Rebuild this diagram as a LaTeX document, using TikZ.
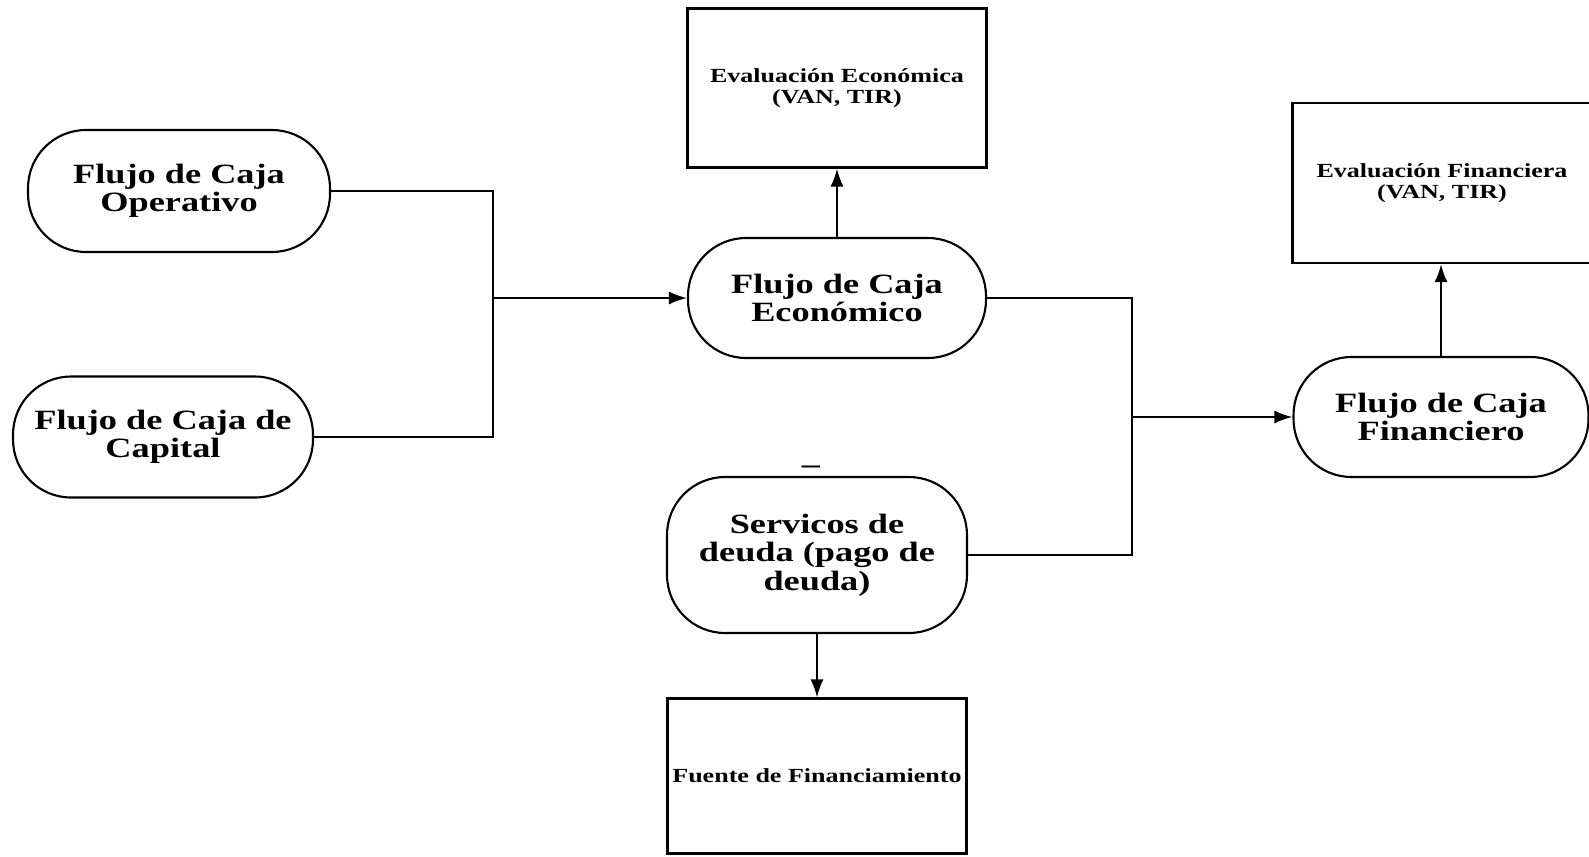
\documentclass[tikz,border=0pt]{standalone}
\usepackage{fontspec}
\setmainfont{Liberation Serif}[FakeStretch=1.3]
\usepackage{tikz}
\usetikzlibrary{arrows.meta}

\begin{document}
\begin{tikzpicture}[x=0.02cm, y=-0.02cm, line width=1.2pt,
        flujo/.style={draw, rectangle, rounded corners=1.16cm, align=center, inner sep=0pt,
            font=\fontsize{15.9pt}{16.2pt}\selectfont\bfseries},
        evalbox/.style={draw, rectangle, align=center, inner sep=0pt,
            minimum width=5.98cm, font=\fontsize{11.4pt}{12pt}\selectfont\bfseries},
        flecha/.style={-{Latex[length=0.36cm, width=0.26cm]}}]
        \useasboundingbox (0, 0) rectangle (1589, 856);

        \node[flujo, minimum width=6.04cm, minimum height=2.44cm] (oper) at (179, 191) {Flujo de Caja\\Operativo};
        \node[flujo, minimum width=6cm, minimum height=2.42cm] (capi) at (163, 437) {Flujo de Caja de\\Capital};
        \node[flujo, minimum width=5.96cm, minimum height=2.4cm] (econ) at (837, 298) {Flujo de Caja\\Económico};
        \node[flujo, minimum width=5.9cm, minimum height=2.4cm] (fina) at (1441, 417) {Flujo de Caja\\Financiero};
        \node[flujo, minimum width=6cm, minimum height=3.12cm] (serv) at (817, 555) {Servicos de\\deuda (pago de\\deuda)};

        \node[evalbox, minimum height=3.18cm] (evaleco) at (837, 88) {Evaluación Económica\\(VAN, TIR)};
        \node[evalbox, minimum height=3.2cm] (evalfin) at (1442, 183) {Evaluación Financiera\\(VAN, TIR)};
        \node[evalbox, minimum height=3.1cm] (fuente) at (817, 776) {Fuente de Financiamiento};

        \node[font=\fontsize{15.9pt}{16.2pt}\selectfont\bfseries] (guion) at (811, 470) {–};

        \coordinate (juntaizq) at (493, 298);
        \coordinate (juntader) at (1132, 417);

        \draw (oper.east) -| (juntaizq);
        \draw (capi.east) -| (juntaizq);
        \draw[flecha] (juntaizq) -- (econ.west);
        \draw (econ.east) -| (juntader);
        \draw (serv.east) -| (juntader);
        \draw[flecha] (juntader) -- (fina.west);

        \draw[flecha] (econ.north) -- (evaleco.south);
        \draw[flecha] (fina.north) -- (fina.north |- evalfin.south);
        \draw[flecha] (serv.south) -- (fuente.north);
    \end{tikzpicture}
\end{document}
